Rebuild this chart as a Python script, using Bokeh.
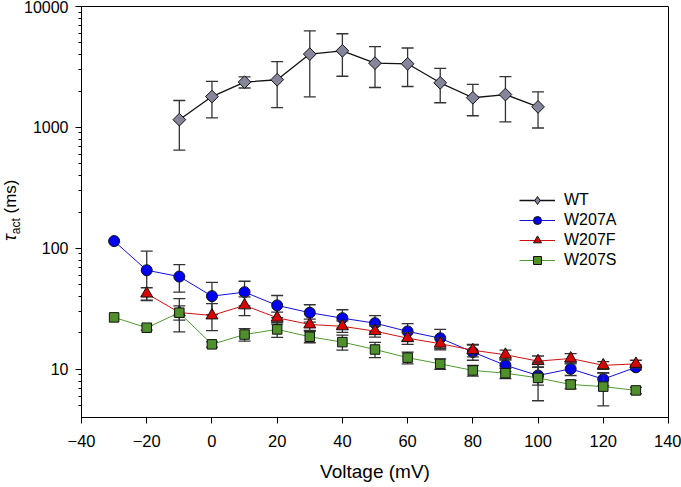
import math
from bokeh.plotting import figure
from bokeh.layouts import row
from bokeh.models import (Legend, LegendItem, FixedTicker, Div,
                          NumeralTickFormatter, Range1d)
from bokeh.embed import file_html
from bokeh.resources import INLINE

# ---------------- data ----------------
volt_wt = [-10, 0, 10, 20, 30, 40, 50, 60, 70, 80, 90, 100]
tau_wt = [1160, 1800, 2370, 2480, 4040, 4300, 3400, 3360, 2340, 1760, 1870, 1480]
err_wt = [510, 600, 250, 1020, 2250, 1650, 1260, 1180, 740, 510, 760, 490]

volt_a = [-30, -20, -10, 0, 10, 20, 30, 40, 50, 60, 70, 80, 90, 100, 110, 120, 130]
tau_a = [115, 66, 58.5, 40.3, 43.5, 33.8, 29.4, 26.5, 24.1, 20.6, 18.1, 13.9, 10.8, 8.9, 10.1, 8.3, 10.4]
err_a = [0, 29, 15, 12, 10, 7, 4.8, 4.6, 3.7, 3.3, 3.3, 2.0, 1.2, 1.5, 1.2, 1.0, 0.5]

volt_f = [-20, -10, 0, 10, 20, 30, 40, 50, 60, 70, 80, 90, 100, 110, 120, 130]
tau_f = [42.3, 29.5, 27.9, 33.8, 26.7, 23.5, 22.7, 20.7, 18.1, 16.3, 14.4, 13.2, 11.7, 12.3, 10.8, 11.1]
err_f = [5, 4, 7, 6, 3, 2.5, 2.5, 2.2, 2.0, 1.8, 1.7, 1.2, 1.2, 1.2, 0.8, 0.8]

volt_s = [-30, -20, -10, 0, 10, 20, 30, 40, 50, 60, 70, 80, 90, 100, 110, 120, 130]
tau_s = [26.9, 22.1, 29.4, 16.1, 19.4, 21.4, 18.6, 16.8, 14.6, 12.5, 11.1, 9.8, 9.3, 8.5, 7.5, 7.2, 6.7]
err_s = [0, 1.0, 9, 0.8, 2.3, 3.0, 2.0, 2.4, 2.1, 1.4, 1.1, 1.0, 0.9, 3.0, 0.6, 2.2, 0.4]

x_ticks = [-40, -20, 0, 20, 40, 60, 80, 100, 120, 140]
y_ticks = [10, 100, 1000, 10000]
y_minor = [5, 6, 7, 8, 9] + [m * d for d in (10, 100, 1000) for m in range(2, 10)]

series_names = ["WT", "W207A", "W207F", "W207S"]
y_title_parts = ["τ", "act", "(ms)"]
x_title = "Voltage (mV)"

FONT = "Liberation Sans"
W_LAB = 21

# ---------------- main plot ----------------
p = figure(width=681 - W_LAB, height=487, y_axis_type="log",
           x_range=Range1d(-40, 140), y_range=Range1d(4, 10000),
           output_backend="svg", toolbar_location=None,
           min_border_left=59, min_border_right=13,
           min_border_top=6, min_border_bottom=70)
p.xgrid.visible = False
p.ygrid.visible = False
p.outline_line_color = "black"
p.outline_line_width = 1
p.background_fill_color = "white"
p.border_fill_color = "white"

for ax in (p.xaxis[0], p.yaxis[0]):
    ax.axis_line_color = "black"
    ax.major_tick_line_color = "black"
    ax.minor_tick_line_color = "black"
    ax.major_tick_in = 0
    ax.major_tick_out = 6
    ax.minor_tick_in = 0
    ax.minor_tick_out = 3
    ax.major_label_text_font = FONT
    ax.major_label_text_font_size = "16px"
    ax.major_label_text_color = "black"

p.xaxis.ticker = FixedTicker(ticks=x_ticks, minor_ticks=[])
p.xaxis.major_label_text_font_size = "16.5px"
p.xaxis.major_label_standoff = 11
p.xaxis.axis_label = x_title
p.xaxis.axis_label_text_font = FONT
p.xaxis.axis_label_text_font_size = "19px"
p.xaxis.axis_label_text_font_style = "normal"
p.xaxis.axis_label_text_color = "black"
p.xaxis.axis_label_standoff = 11

p.yaxis.ticker = FixedTicker(ticks=y_ticks, minor_ticks=y_minor)
p.yaxis.formatter = NumeralTickFormatter(format="0")
p.yaxis.major_label_standoff = 7

EB = "#333333"


def series(xs, ys, es, line_color, marker, fill, size, angle=0.0, lw=1.0, proxy=None):
    xe = [x for x, e in zip(xs, es) if e > 0]
    lo = [y - e for y, e in zip(ys, es) if e > 0]
    hi = [y + e for y, e in zip(ys, es) if e > 0]
    p.segment(xe, lo, xe, hi, line_color=EB, line_width=1.3)
    p.scatter(xe, lo, marker="dash", size=12, line_color=EB, line_width=1.3)
    p.scatter(xe, hi, marker="dash", size=12, line_color=EB, line_width=1.3)
    ln = p.line(xs, ys, line_color=line_color, line_width=lw)
    px = None
    if proxy is not None:
        # small diamonds hidden under the rotated squares; used for the legend key
        px = p.scatter(xs, ys, marker=proxy, size=6, fill_color=fill,
                       line_color="#111111", line_width=1)
    mk = p.scatter(xs, ys, marker=marker, size=size, angle=angle,
                   fill_color=fill, line_color="#111111", line_width=1)
    return ln, (px if px is not None else mk)


wt = series(volt_wt, tau_wt, err_wt, "#111111", "square", "#85859c", 9,
            angle=math.pi / 4, lw=1.3, proxy="diamond")
wa = series(volt_a, tau_a, err_a, "#1010e0", "circle", "#0000f0", 11)
wf = series(volt_f, tau_f, err_f, "#d01010", "triangle", "#d80000", 12)
ws = series(volt_s, tau_s, err_s, "#4f9a30", "square", "#4f8f2c", 9.5)

legend = Legend(items=[
    LegendItem(label=series_names[0], renderers=list(wt)),
    LegendItem(label=series_names[1], renderers=list(wa)),
    LegendItem(label=series_names[2], renderers=list(wf)),
    LegendItem(label=series_names[3], renderers=list(ws)),
], location=(438, 147), orientation="vertical")
legend.label_text_font = FONT
legend.label_text_font_size = "16px"
legend.label_text_color = "black"
legend.glyph_width = 36
legend.glyph_height = 20
legend.label_height = 20
legend.spacing = 0
legend.padding = 0
legend.margin = 0
legend.label_standoff = 9
legend.background_fill_alpha = 0
legend.border_line_alpha = 0
p.add_layout(legend, "center")

# ---------------- y-axis title (HTML text rotated with CSS) ----------------
title_html = (
    '<div style="position:relative;width:%dpx;height:487px;">'
    '<div style="position:absolute;left:2px;top:241px;transform:rotate(-90deg);'
    'transform-origin:left top;white-space:nowrap;font-family:\'%s\';'
    'font-size:17px;line-height:17px;color:#000;">'
    '<i style="font-size:18px;">%s</i>'
    '<sub style="font-size:12px;line-height:0;">%s</sub> %s</div></div>'
) % (W_LAB, FONT, y_title_parts[0], y_title_parts[1], y_title_parts[2])
ytitle = Div(text=title_html, width=W_LAB, height=487, margin=0)

layout = row(ytitle, p)
open("out.html", "w").write(file_html(layout, INLINE))
